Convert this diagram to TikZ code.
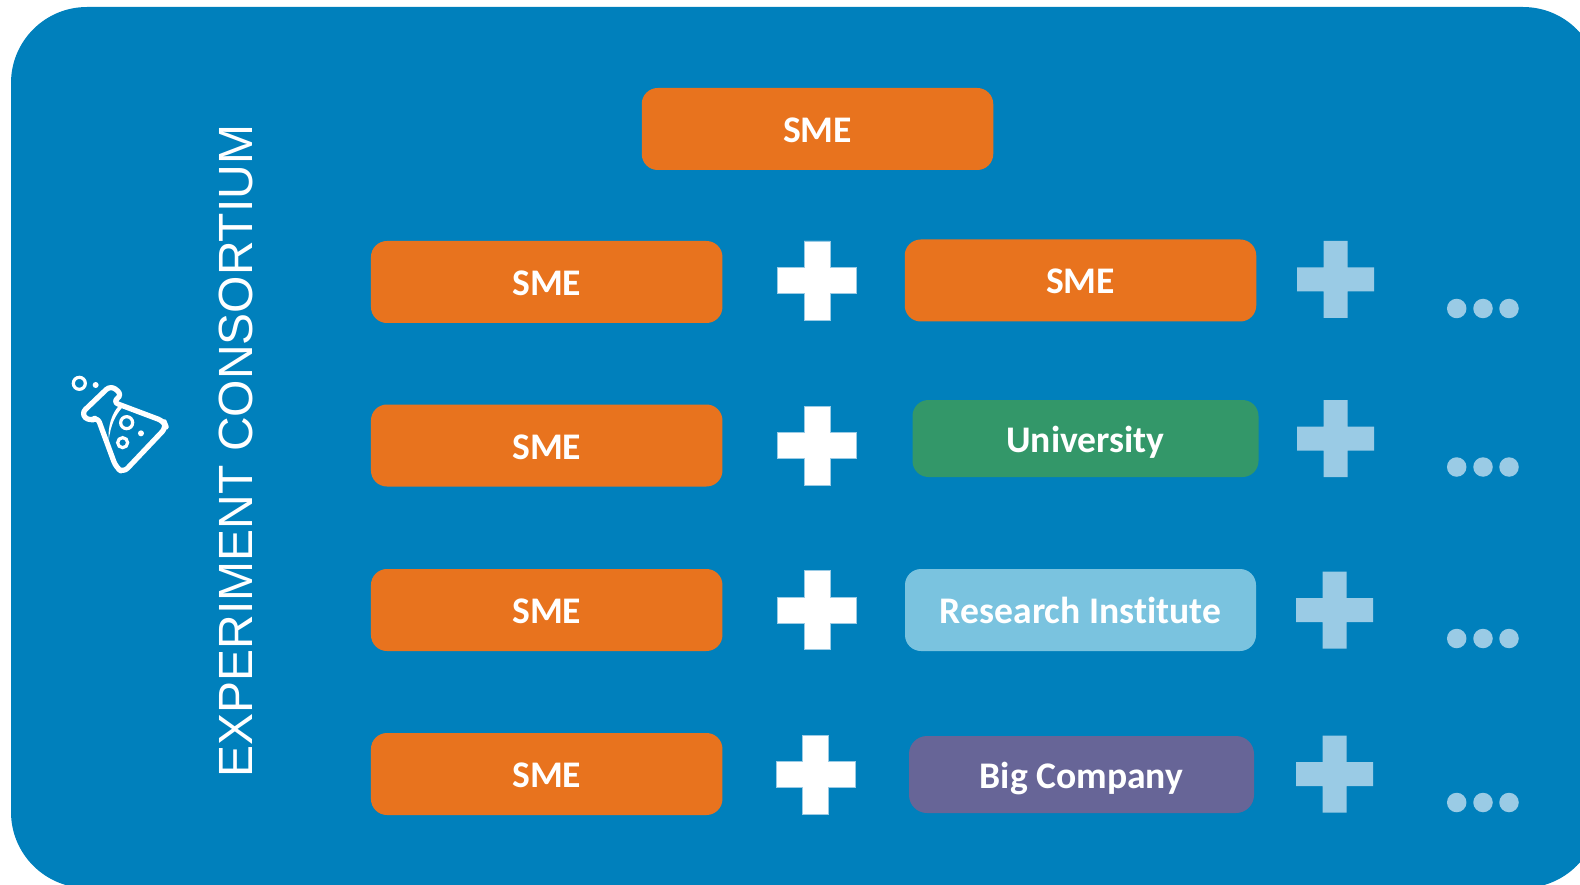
\documentclass[tikz,border=0pt]{standalone}
\usepackage{fontspec}
\setmainfont{Liberation Sans}
\newfontfamily\boxfont{Carlito}[BoldFont={Carlito Bold},Ligatures=NoCommon]
\definecolor{bgblue}{HTML}{0080BC}
\definecolor{smeorange}{HTML}{E8731E}
\definecolor{unigreen}{HTML}{339769}
\definecolor{resblue}{HTML}{7AC3DF}
\definecolor{bigpurple}{HTML}{676597}
\definecolor{lightmark}{HTML}{9ACBE5}
\tikzset{
  boxbase/.style={rounded corners=16pt,inner sep=0pt,text=white,text height=27pt,text depth=0pt,font=\boxfont\fontsize{37.6}{38}\selectfont\bfseries},
  smebox/.style={boxbase,fill=smeorange,minimum width=351.5pt,minimum height=82pt},
  unibox/.style={boxbase,fill=unigreen,minimum width=346pt,minimum height=77pt},
  resbox/.style={boxbase,fill=resblue,minimum width=351pt,minimum height=82pt},
  bigbox/.style={boxbase,fill=bigpurple,minimum width=345pt,minimum height=77pt,rounded corners=18pt},
  dotmark/.style={circle,fill=lightmark,minimum size=19.5pt,inner sep=0pt},
  flaskline/.style={draw=white,line width=5.2pt,line join=round},
  whiteplus/.style={fill=white,draw=lightmark,line width=0.5pt},
  lightplus/.style={fill=lightmark},
}
% centre x, centre y, half span, half arm, style
\newcommand{\plusmark}[5]{%
  \path[#5] (#1-#4,#2-#3) -- (#1+#4,#2-#3) -- (#1+#4,#2-#4) -- (#1+#3,#2-#4)
    -- (#1+#3,#2+#4) -- (#1+#4,#2+#4) -- (#1+#4,#2+#3) -- (#1-#4,#2+#3)
    -- (#1-#4,#2+#4) -- (#1-#3,#2+#4) -- (#1-#3,#2-#4) -- (#1-#4,#2-#4) -- cycle;}
\newcommand{\dotrow}[2]{%
  \node[dotmark] (d#1a) at (1456.7,#2) {};
  \node[dotmark] (d#1b) at (1483,#2) {};
  \node[dotmark] (d#1c) at (1509,#2) {};}
\begin{document}
\begin{tikzpicture}[x=1pt,y=-1pt]
\useasboundingbox (0,0) rectangle (1580,885);
\clip (0,0) rectangle (1580,885);
\fill[bgblue,rounded corners=76pt] (11,7) rectangle (1599,888);

\node[rotate=90,text=white,font=\fontsize{48}{48}\selectfont,inner sep=0pt] (title) at (236,451) {EXPERIMENT CONSORTIUM};

% flask icon
\begin{scope}[xshift=40pt,yshift=-350pt,x=0.3333pt,y=-0.3333pt]
  \draw[flaskline,rounded corners=6pt] (212,106) -- (247,134) -- (218,156) -- (372,214) -- (379,232) -- (250,368) -- (228,352) -- (172,200) -- (150,215) -- (123,191) -- cycle;
  \fill[white] (251,168) .. controls (225,195) and (212,225) .. (206,272) .. controls (203,230) and (215,190) .. (238,166) -- cycle;
  \draw[draw=white,line width=3.2pt] (118,100) circle (18);
  \fill[white] (167,105) circle (9);
  \draw[draw=white,line width=3.2pt] (260,218) circle (18);
  \fill[white] (303,250) circle (9);
  \draw[draw=white,line width=3.2pt] (248,278) circle (15);
\end{scope}

\node[smebox] (top) at (817.5,129) {SME};
\node[smebox] (l1) at (546.7,282) {SME};
\node[smebox] (r1) at (1080.5,280.5) {SME};
\node[smebox] (l2) at (546.7,445.5) {SME};
\node[unibox] (r2) at (1085.5,438.5) {University};
\node[smebox] (l3) at (546.7,610) {SME};
\node[resbox] (r3) at (1080.5,610) {Research Institute};
\node[smebox] (l4) at (546.7,774) {SME};
\node[bigbox] (r4) at (1081.5,774.5) {Big Company};

\plusmark{817.2}{280.5}{39.5}{13}{whiteplus}
\plusmark{817.2}{445.5}{39.5}{13}{whiteplus}
\plusmark{817.2}{610}{39.5}{13}{whiteplus}
\plusmark{815.5}{774.5}{39.5}{13}{whiteplus}

\plusmark{1335.5}{279.5}{38.5}{12}{lightplus}
\plusmark{1335.5}{438.5}{38.5}{12}{lightplus}
\plusmark{1334.5}{610}{38.5}{12}{lightplus}
\plusmark{1334.5}{774}{38.5}{12}{lightplus}

\dotrow{1}{308.5}
\dotrow{2}{467}
\dotrow{3}{638.5}
\dotrow{4}{802.5}
\end{tikzpicture}
\end{document}
